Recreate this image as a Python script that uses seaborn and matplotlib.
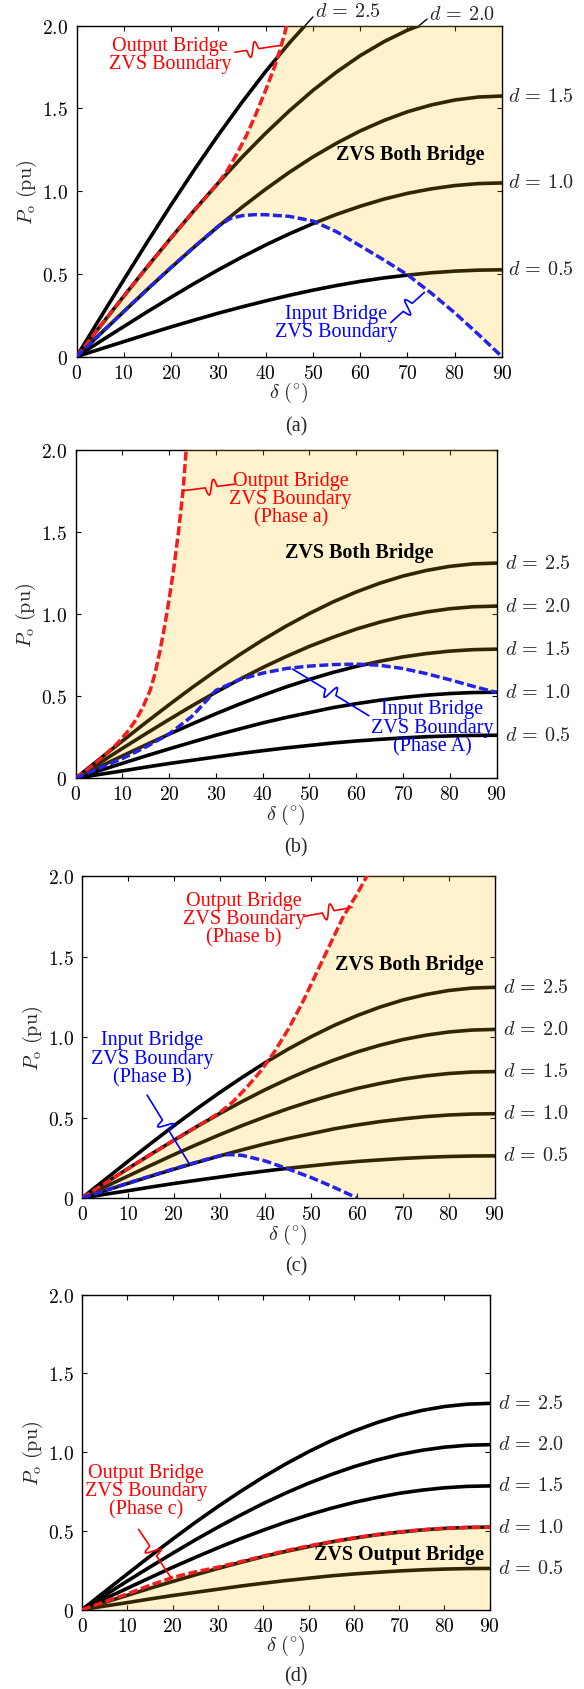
import numpy as np
import pandas as pd
import matplotlib
matplotlib.use("Agg")
import matplotlib.pyplot as plt
import seaborn as sns
from matplotlib.ticker import FixedLocator, FixedFormatter

# ---------------------------------------------------------------- data
DELTA = [0, 5, 10, 15, 20, 25, 30, 35, 40, 45, 50, 55, 60, 65, 70, 75, 80, 85, 90]
D_VALUES = [0.5, 1.0, 1.5, 2.0, 2.5]
D_LABELS = ["0.5", "1.0", "1.5", "2.0", "2.5"]

# (a) output power for each duty ratio d
PA_D05 = [0, 0.046, 0.091, 0.136, 0.18, 0.222, 0.263, 0.301, 0.337, 0.371, 0.402, 0.43, 0.455, 0.476, 0.493, 0.507, 0.517, 0.523, 0.525]
PA_D10 = [0, 0.092, 0.182, 0.272, 0.359, 0.444, 0.525, 0.602, 0.675, 0.742, 0.804, 0.86, 0.909, 0.952, 0.987, 1.014, 1.034, 1.046, 1.05]
PA_D15 = [0, 0.137, 0.273, 0.408, 0.539, 0.666, 0.788, 0.903, 1.012, 1.114, 1.207, 1.29, 1.364, 1.427, 1.48, 1.521, 1.551, 1.569, 1.575]
PA_D20 = [0, 0.183, 0.365, 0.544, 0.718, 0.887, 1.05, 1.205, 1.35, 1.485, 1.609, 1.72, 1.819, 1.903, 1.973, 2.028, 2.068, 2.092, 2.1]
PA_D25 = [0, 0.234, 0.465, 0.694, 0.917, 1.133, 1.34, 1.537, 1.723, 1.895, 2.053, 2.195, 2.321, 2.429, 2.518, 2.589, 2.639, 2.67, 2.68]

# (a) ZVS boundaries
RA_DELTA = [0, 5, 10, 15, 20, 25, 30, 32, 34, 36, 38, 40, 42, 43, 44, 44.6]
RA_P = [0, 0.183, 0.365, 0.544, 0.718, 0.887, 1.05, 1.13, 1.23, 1.34, 1.47, 1.61, 1.76, 1.85, 1.95, 2.02]
BA_DELTA = [0, 5, 10, 15, 20, 25, 30, 32.5, 35, 37.5, 40, 45, 50, 55, 60, 65, 70, 75, 80, 85, 90]
BA_P = [0, 0.137, 0.273, 0.408, 0.539, 0.666, 0.788, 0.835, 0.852, 0.858, 0.858, 0.848, 0.82, 0.755, 0.67, 0.585, 0.495, 0.385, 0.265, 0.135, 0]

# (b)-(d) output power for each duty ratio d
P_D05 = [0, 0.023, 0.045, 0.068, 0.09, 0.11, 0.13, 0.15, 0.168, 0.185, 0.20, 0.215, 0.227, 0.237, 0.246, 0.253, 0.258, 0.261, 0.262]
P_D10 = [0, 0.046, 0.091, 0.136, 0.179, 0.221, 0.262, 0.30, 0.337, 0.37, 0.40, 0.43, 0.454, 0.475, 0.492, 0.506, 0.516, 0.522, 0.524]
P_D15 = [0, 0.069, 0.136, 0.203, 0.269, 0.332, 0.393, 0.451, 0.505, 0.556, 0.602, 0.644, 0.681, 0.712, 0.739, 0.759, 0.774, 0.783, 0.786]
P_D20 = [0, 0.091, 0.182, 0.271, 0.358, 0.443, 0.524, 0.601, 0.674, 0.741, 0.803, 0.858, 0.908, 0.95, 0.985, 1.012, 1.032, 1.044, 1.048]
P_D25 = [0, 0.114, 0.227, 0.339, 0.448, 0.554, 0.655, 0.751, 0.842, 0.926, 1.003, 1.073, 1.134, 1.187, 1.231, 1.265, 1.29, 1.305, 1.31]

# (b) boundaries, phase a / phase A
RB_DELTA = [0, 3, 6, 9, 11, 13, 14.5, 16, 17, 18, 19, 20, 21, 22, 23, 23.7]
RB_P = [0, 0.065, 0.135, 0.215, 0.28, 0.36, 0.44, 0.54, 0.64, 0.77, 0.92, 1.09, 1.28, 1.50, 1.76, 2.02]
BB_DELTA = DELTA
BB_P = [0, 0.06, 0.12, 0.19, 0.27, 0.38, 0.535, 0.60, 0.64, 0.668, 0.683, 0.692, 0.695, 0.688, 0.668, 0.637, 0.60, 0.56, 0.523]

# (c) boundaries, phase b / phase B
RC_DELTA = [0, 5, 10, 15, 20, 25, 30, 33, 36, 39, 42, 45, 48, 51, 54, 57, 60, 62.5]
RC_P = [0, 0.091, 0.182, 0.271, 0.358, 0.443, 0.53, 0.60, 0.69, 0.79, 0.91, 1.05, 1.21, 1.39, 1.57, 1.75, 1.89, 2.02]
BC_DELTA = [0, 5, 10, 15, 20, 25, 30, 32, 35, 40, 45, 50, 55, 60]
BC_P = [0, 0.046, 0.092, 0.137, 0.181, 0.223, 0.262, 0.27, 0.265, 0.23, 0.18, 0.127, 0.066, 0]

# (d) boundary, phase c
RD_DELTA = DELTA
RD_P = [0, 0.05, 0.10, 0.155, 0.205, 0.24, 0.27, 0.305, 0.34, 0.375, 0.405, 0.432, 0.456, 0.477, 0.494, 0.508, 0.517, 0.522, 0.524]

X_TICKS = [0, 10, 20, 30, 40, 50, 60, 70, 80, 90]
Y_TICKS = [0, 0.5, 1.0, 1.5, 2.0]
Y_TICK_LABELS = ["0", "0.5", "1.0", "1.5", "2.0"]
XMAX, YMAX = 90, 2.0

# ---------------------------------------------------------------- style
sns.set_theme(style="ticks")
plt.rcParams.update({
    "font.family": ["Liberation Serif", "DejaVu Serif"],
    "mathtext.fontset": "cm",
    "axes.linewidth": 1.0,
    "axes.edgecolor": "black",
    "xtick.direction": "in",
    "ytick.direction": "in",
    "xtick.top": True,
    "ytick.right": True,
    "xtick.major.size": 3.5,
    "ytick.major.size": 3.5,
    "xtick.major.width": 0.8,
    "ytick.major.width": 0.8,
    "xtick.color": "black",
    "ytick.color": "black",
})

RED = "#f41c1c"
BLUE = "#2323e6"
SHADE = (1.0, 0.745, 0.0)
DASH = (0, (2.6, 1.0))
FS_TICK = 14
FS_TXT = 14.5

fig = plt.figure(figsize=(5.84, 16.9), dpi=100)
W, H = 584.0, 1690.0


def add_axes(x0, x1, ytop, ybot):
    return fig.add_axes([x0 / W, 1 - ybot / H, (x1 - x0) / W, (ybot - ytop) / H])


def setup(ax):
    ax.set_xlim(0, XMAX)
    ax.set_ylim(0, YMAX)
    ax.xaxis.set_major_locator(FixedLocator(X_TICKS))
    ax.xaxis.set_major_formatter(FixedFormatter([f"${t}$" for t in X_TICKS]))
    ax.yaxis.set_major_locator(FixedLocator(Y_TICKS))
    ax.yaxis.set_major_formatter(FixedFormatter([f"${t}$" for t in Y_TICK_LABELS]))
    ax.tick_params(axis="x", labelsize=FS_TICK, pad=5)
    ax.tick_params(axis="y", labelsize=FS_TICK, pad=6)
    for s in ax.spines.values():
        s.set_visible(True)
        s.set_color("black")
    ax.set_xlabel(r"$\delta\ (^{\circ})$", fontsize=FS_TXT, labelpad=-1)
    ax.set_ylabel(r"$P_{\mathrm{o}}\ (\mathrm{pu})$", fontsize=FS_TXT, labelpad=2)


def draw_family(ax, curves):
    df = pd.concat(
        [pd.DataFrame({"delta": DELTA, "P": p, "d": d}) for d, p in zip(D_VALUES, curves)],
        ignore_index=True)
    sns.lineplot(data=df, x="delta", y="P", units="d", estimator=None, color="black",
                 linewidth=2.6, legend=False, ax=ax, zorder=2)
    return df


def boundary(ax, x, y, color):
    sns.lineplot(x=x, y=y, color=color, linewidth=2.5, linestyle=DASH,
                 legend=False, ax=ax, zorder=4)


def leader(ax, start, end, color, frac=0.5, amp=7.5, half=6.0):
    tr = ax.transData
    p0 = tr.transform(start)
    p1 = tr.transform(end)
    v = p1 - p0
    L = np.hypot(*v)
    u = v / L
    n = np.array([-u[1], u[0]])
    s = np.linspace(0, L, 300)
    c = frac * L
    w = np.where(np.abs(s - c) <= half, np.sin(np.pi * (s - c) / half), 0.0)
    pts = p0 + np.outer(s, u) + np.outer(amp * w, n)
    xy = tr.inverted().transform(pts)
    ax.plot(xy[:, 0], xy[:, 1], color=color, lw=1.2, zorder=6, clip_on=False)


def right_labels(ax, curves, dx=5):
    for lab, p in zip(D_LABELS, curves):
        if p[-1] <= YMAX:
            ax.annotate(rf"$d\,=\,{lab}$", xy=(XMAX, p[-1]), xytext=(dx, 0),
                        textcoords="offset points", ha="left", va="center",
                        fontsize=FS_TXT, annotation_clip=False)


def note(ax, x, y, s, color, **kw):
    ax.text(x, y, s, color=color, fontsize=FS_TXT, ha="center", va="center",
            linespacing=0.95, zorder=7, **kw)


def caption(y_px, s):
    fig.text(296 / W, 1 - y_px / H, s, ha="center", va="center", fontsize=14.5)


# ---------------------------------------------------------------- (a)
ax = add_axes(76.5, 502, 26.7, 357.7)
setup(ax)
curves_a = [PA_D05, PA_D10, PA_D15, PA_D20, PA_D25]
draw_family(ax, curves_a)
ax.fill(list(RA_DELTA) + [XMAX, XMAX] + BA_DELTA[::-1],
        list(RA_P) + [YMAX, 0] + BA_P[::-1],
        color=SHADE, alpha=0.2, lw=0, zorder=3)
boundary(ax, RA_DELTA, RA_P, RED)
boundary(ax, BA_DELTA, BA_P, BLUE)
right_labels(ax, curves_a, dx=4)
for lab, p, ly in [("2.5", PA_D25, 2.083), ("2.0", PA_D20, 2.07)]:
    xc = float(np.interp(YMAX, p, DELTA))
    ax.plot([xc, xc + 1.7], [YMAX, ly - 0.03], color="black", lw=1.0, clip_on=False, zorder=6)
    ax.text(xc + 2.2, ly, rf"$d\,=\,{lab}$", fontsize=FS_TXT, ha="left", va="center")
note(ax, 70.5, 1.225, "ZVS Both Bridge", "black", fontweight="bold")
note(ax, 19.8, 1.825, "Output Bridge\nZVS Boundary", "red")
leader(ax, (33.5, 1.84), (42.9, 1.88), "red", frac=0.4)
note(ax, 55.0, 0.205, "Input Bridge\nZVS Boundary", "blue")
leader(ax, (66.5, 0.207), (73.6, 0.389), "blue", frac=0.5)
caption(427, "(a)")

# ---------------------------------------------------------------- (b)
curves_bcd = [P_D05, P_D10, P_D15, P_D20, P_D25]
ax = add_axes(75.6, 496.5, 450.7, 779.3)
setup(ax)
draw_family(ax, curves_bcd)
ax.fill(list(RB_DELTA) + [XMAX] + list(BB_DELTA)[::-1],
        list(RB_P) + [YMAX] + BB_P[::-1],
        color=SHADE, alpha=0.2, lw=0, zorder=3)
boundary(ax, RB_DELTA, RB_P, RED)
boundary(ax, BB_DELTA, BB_P, BLUE)
right_labels(ax, curves_bcd, dx=6)
note(ax, 60.7, 1.375, "ZVS Both Bridge", "black", fontweight="bold")
note(ax, 46.0, 1.70, "Output Bridge\nZVS Boundary\n(Phase a)", "red")
leader(ax, (34.0, 1.79), (22.9, 1.75), "red", frac=0.45)
note(ax, 76.3, 0.31, "Input Bridge\nZVS Boundary\n(Phase A)", "blue")
leader(ax, (62.7, 0.381), (46.4, 0.665), "blue", frac=0.5)
caption(848, "(b)")

# ---------------------------------------------------------------- (c)
ax = add_axes(82, 494.6, 877.3, 1199)
setup(ax)
draw_family(ax, curves_bcd)
ax.fill(list(RC_DELTA) + [XMAX, XMAX] + BC_DELTA[::-1],
        list(RC_P) + [YMAX, 0] + BC_P[::-1],
        color=SHADE, alpha=0.2, lw=0, zorder=3)
boundary(ax, RC_DELTA, RC_P, RED)
boundary(ax, BC_DELTA, BC_P, BLUE)
right_labels(ax, curves_bcd, dx=6)
note(ax, 71.3, 1.455, "ZVS Both Bridge", "black", fontweight="bold")
note(ax, 35.3, 1.735, "Output Bridge\nZVS Boundary\n(Phase b)", "red")
leader(ax, (48.5, 1.751), (58.9, 1.807), "red", frac=0.5)
note(ax, 15.3, 0.868, "Input Bridge\nZVS Boundary\n(Phase B)", "blue")
leader(ax, (14.2, 0.64), (23.2, 0.222), "blue", frac=0.45)
caption(1267, "(c)")

# ---------------------------------------------------------------- (d)
ax = add_axes(82, 489.8, 1295.7, 1610.7)
setup(ax)
draw_family(ax, curves_bcd)
ax.fill(list(RD_DELTA) + [XMAX, 0], list(RD_P) + [0, 0],
        color=SHADE, alpha=0.2, lw=0, zorder=3)
boundary(ax, RD_DELTA, RD_P, RED)
right_labels(ax, curves_bcd, dx=6)
note(ax, 70.0, 0.353, "ZVS Output Bridge", "black", fontweight="bold")
note(ax, 14.2, 0.756, "Output Bridge\nZVS Boundary\n(Phase c)", "red")
leader(ax, (12.5, 0.51), (19.6, 0.205), "red", frac=0.45)
caption(1677, "(d)")

fig.savefig("out.png", dpi=100)
